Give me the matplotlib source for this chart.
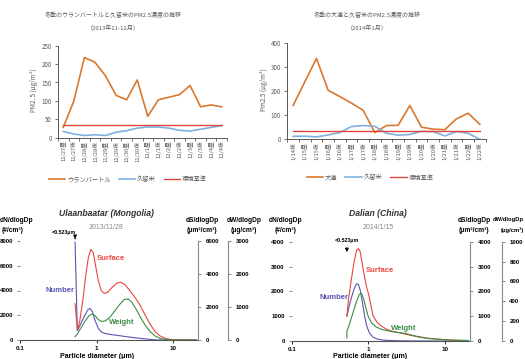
import matplotlib
matplotlib.use('Agg')
import matplotlib.pyplot as plt

W, H = 525, 359
JP = ['Noto Sans CJK JP', 'DejaVu Sans']
EN = ['Liberation Sans', 'DejaVu Sans']

# PM2.5, Ulaanbaatar vs Kurume (2013/11-12)
ub_labels = ['11/27昼', '11/27夜', '11/28昼', '11/28夜', '11/29昼', '11/29夜', '11/30昼', '11/30夜',
             '12/1昼', '12/1夜', '12/2昼', '12/2夜', '12/3昼', '12/3夜', '12/4昼', '12/4夜']
ub_pm = [28, 100, 218, 205, 168, 115, 103, 157, 58, 103, 110, 117, 142, 84, 89, 84]
ub_kurume = [17, 10, 6, 8, 6, 15, 19, 26, 29, 29, 26, 20, 18, 23, 28, 33]

# PM2.5, Dalian vs Kurume (2014/1)
dl_labels = ['1/14夜', '1/15昼', '1/15夜', '1/16昼', '1/16夜', '1/17昼', '1/17夜', '1/18昼', '1/18夜',
             '1/19昼', '1/19夜', '1/20昼', '1/20夜', '1/21昼', '1/21夜', '1/22昼', '1/22夜']
dl_pm = [140, 238, 335, 203, 177, 150, 120, 28, 57, 58, 140, 50, 42, 40, 85, 108, 62]
dl_kurume = [12, 13, 10, 18, 28, 53, 57, 54, 25, 17, 20, 33, 32, 14, 32, 25, 0]

standard = 35

# size distribution, Ulaanbaatar 2013/11/28
ub_n_d = [0.523, 0.56, 0.62, 0.7, 0.77, 0.82, 0.88, 0.95, 1.05, 1.15, 1.3, 1.5, 1.83, 2.5, 3.0, 4.0, 4.9, 6.0, 8.0, 20]
ub_n = [7900, 750, 1300, 2000, 2450, 2550, 2300, 1600, 950, 650, 520, 450, 380, 260, 200, 110, 50, 5, 0, 0]
ub_s_d = [0.523, 0.56, 0.6, 0.66, 0.72, 0.78, 0.84, 0.9, 0.97, 1.05, 1.15, 1.25, 1.4, 1.6, 1.85,
          2.05, 2.35, 2.7, 3.2, 3.7, 4.3, 5.0, 5.8, 6.7, 7.8, 9.0, 12, 20]
ub_s = [2200, 640, 1100, 2400, 3900, 5000, 5500, 5300, 4500, 3600, 3000, 2820, 2900, 3200, 3450,
        3500, 3350, 3000, 2550, 2100, 1500, 950, 500, 250, 100, 40, 5, 0]
ub_w_d = [0.523, 0.56, 0.6, 0.7, 0.8, 0.88, 0.95, 1.05, 1.16, 1.3, 1.5, 1.75, 2.0, 2.3, 2.6,
          2.9, 3.3, 3.7, 4.3, 5.0, 5.8, 6.7, 8.0, 10, 20]
ub_w = [100, 180, 300, 560, 740, 790, 740, 620, 560, 580, 700, 900, 1080, 1230, 1240,
        1130, 920, 700, 450, 250, 120, 50, 15, 0, 0]

# size distribution, Dalian 2014/1/15
dl_n_d = [0.523, 0.55, 0.6, 0.65, 0.7, 0.74, 0.78, 0.83, 0.89, 0.95, 1.03, 1.15, 1.3, 1.5, 2.0, 3.0, 5.0, 20]
dl_n = [1000, 1300, 1750, 2100, 2300, 2280, 2050, 1600, 1000, 600, 320, 150, 80, 40, 15, 5, 0, 0]
dl_s_d = [0.523, 0.55, 0.6, 0.65, 0.7, 0.74, 0.78, 0.84, 0.9, 0.94, 1.0, 1.05, 1.15, 1.3, 1.4,
          1.7, 2.0, 2.8, 3.5, 4.6, 6.0, 8.4, 12, 20]
dl_s = [1000, 1700, 2500, 3200, 3650, 3720, 3600, 3000, 2500, 2200, 1900, 1600, 1000, 750, 650,
        480, 400, 300, 230, 170, 110, 70, 30, 10]
dl_w_d = [0.523, 0.525, 0.56, 0.62, 0.7, 0.76, 0.81, 0.86, 0.92, 0.99, 1.1, 1.27, 1.5, 2.0, 2.5,
          3.1, 3.6, 4.5, 6.0, 10, 20]
dl_w = [30, 100, 160, 270, 400, 470, 480, 430, 340, 250, 180, 140, 115, 95, 85,
        75, 60, 40, 25, 12, 5]

ORANGE = '#D9782F'
BLUE = '#7FB1E0'
RED = '#E0443C'
GRAY = '#595959'


def box(l, t, r, b):
    return [l / W, 1 - b / H, (r - l) / W, (b - t) / H]


def fx(x):
    return x / W


def fy(y):
    return 1 - y / H


def draw_pm(fig, rect, labels, city, kurume, ymax, city_name, titles, title_x, leg_xy, ylabel, ylabel_x):
    ax = fig.add_axes(rect)
    x = list(range(len(labels)))
    l1, = ax.plot(x, city, color=ORANGE, lw=1.2)
    l2, = ax.plot(x, kurume, color=BLUE, lw=1.2)
    l3, = ax.plot(x, [standard] * len(x), color=RED, lw=1.0)
    ax.set_xlim(-0.5, len(x) - 0.5)
    ax.set_ylim(0, ymax)
    ax.set_yticks(range(0, ymax + 1, 50 if ymax == 250 else 100))
    ax.set_xticks(x)
    ax.set_xticklabels(labels, rotation=90, family=JP, fontsize=4.2, color=GRAY)
    ax.set_xticks([i - 0.5 for i in range(len(x) + 1)], minor=True)
    ax.tick_params(axis='x', which='major', length=0, pad=2)
    ax.tick_params(axis='x', which='minor', length=2.5, color=GRAY, width=0.6)
    ax.tick_params(axis='y', length=2.5, color=GRAY, width=0.6, labelsize=4.5, labelcolor=GRAY, pad=2)
    for t in ax.get_yticklabels():
        t.set_family(JP)
    for s in ['top', 'right']:
        ax.spines[s].set_visible(False)
    for s in ['left', 'bottom']:
        ax.spines[s].set_color(GRAY)
        ax.spines[s].set_linewidth(0.7)
    fig.text(fx(title_x), fy(15), titles[0], family=JP, fontsize=4.3, color=GRAY, ha='center', va='center')
    fig.text(fx(title_x), fy(28), titles[1], family=JP, fontsize=4.3, color=GRAY, ha='center', va='center')
    fig.text(fx(ylabel_x), fy(90), ylabel, family=JP, fontsize=4.5, color=GRAY, rotation=90,
             ha='center', va='center')
    fig.legend([l1, l2, l3], [city_name, '久留米', '環境基準'], loc='center',
               bbox_to_anchor=(fx(leg_xy[0]), fy(leg_xy[1])), ncol=3, frameon=False,
               prop={'family': JP, 'size': 4.5}, labelcolor=GRAY, handlelength=2.6,
               handletextpad=0.3, columnspacing=1.3)
    return ax


def draw_size(fig, rect, data, n_max, s_max, w_max, n_step, s_step, w_step, title, date,
              arrow, labels_pos):
    l, t, r, b = rect
    ax = fig.add_axes(box(l, t, r, b))
    ax_s = ax.twinx()
    ax_w = ax.twinx()
    ax_w.spines['right'].set_position(('outward', (labels_pos['w_spine'] - r) * 0.72))

    nd, n, sd, s, wd, w = data
    ax.plot(nd, n, color='#5A55B0', lw=0.8)
    ax_s.plot(sd, s, color='#E8463C', lw=0.8)
    ax_w.plot(wd, w, color='#3C8C44', lw=0.8)

    for a, top, step in [(ax, n_max, n_step), (ax_s, s_max, s_step), (ax_w, w_max, w_step)]:
        a.set_xscale('log')
        a.set_xlim(0.1, 21)
        a.set_ylim(0, top)
        a.set_yticks(range(0, top + 1, step))
        a.spines['top'].set_visible(False)
        a.tick_params(axis='y', labelsize=4.3, length=2.5, width=0.6, color='#777777', pad=3)
        for tl in a.get_yticklabels():
            tl.set_family(EN)
            tl.set_weight('bold')
    ax.spines['left'].set_visible(False)
    ax.spines['right'].set_visible(False)
    ax_s.spines['left'].set_visible(False)
    ax_w.spines['left'].set_visible(False)
    ax_s.spines['right'].set_color('#888888')
    ax_w.spines['right'].set_color('#888888')
    ax_s.spines['right'].set_linewidth(0.8)
    ax_w.spines['right'].set_linewidth(0.8)
    ax_s.spines['bottom'].set_visible(False)
    ax_w.spines['bottom'].set_visible(False)
    ax.spines['bottom'].set_color('#555555')
    ax.spines['bottom'].set_linewidth(0.8)
    ax.tick_params(axis='y', pad=2.5)

    ax.set_xticks([0.1, 1, 10])
    ax.set_xticklabels(['0.1', '1', '10'], family=EN, weight='bold', fontsize=4.5)
    ax.xaxis.set_minor_locator(plt.NullLocator())
    ax.tick_params(axis='x', length=2.5, width=0.6, pad=1.5)

    cx = (l + r) / 2
    fig.text(fx(cx - 3), fy(214), title, family=EN, weight='bold', style='italic', fontsize=6.2,
             color='#333333', ha='center', va='center')
    fig.text(fx(cx - 3), fy(228), date, family=EN, fontsize=5, color='#888888', ha='center', va='center')

    # left header: keep it inside the figure
    n_x = max(l - 6, 17)
    fig.text(fx(n_x), fy(220), 'dN/dlogDp', family=EN, weight='bold', fontsize=4.8, ha='center', va='center')
    fig.text(fx(n_x - 4 if l < 30 else n_x), fy(230), '(#/cm³)', family=EN, weight='bold', fontsize=4.8,
             ha='center', va='center')
    fig.text(fx(r + labels_pos['s_off']), fy(220), 'dS/dlogDp', family=EN, weight='bold', fontsize=4.8,
             ha='center', va='center')
    fig.text(fx(r + labels_pos['s_off']), fy(230), '(μm²/cm³)', family=EN, weight='bold', fontsize=4.8,
             ha='center', va='center')
    # right header: keep it inside the figure
    w_x = labels_pos['w_spine'] + labels_pos['w_off']
    w_ha = 'center'
    w_size = 4.8
    if w_x > W - 20:
        w_x, w_ha, w_size = W - 1, 'right', 4.2
    fig.text(fx(w_x), fy(220), 'dW/dlogDp', family=EN, weight='bold', fontsize=w_size, ha=w_ha, va='center')
    fig.text(fx(w_x), fy(230), '(μg/cm³)', family=EN, weight='bold', fontsize=w_size, ha=w_ha, va='center')

    fig.text(fx(labels_pos['xlabel']), fy(357), 'Particle diameter (μm)', family=EN, weight='bold',
             fontsize=5, ha='center', va='center')

    # <0.523um arrow
    ax.annotate('', xy=(0.523, arrow[1]), xytext=(0.523, arrow[0]),
                arrowprops=dict(arrowstyle='-|>', color='black', lw=0.7, mutation_scale=5),
                annotation_clip=False)
    ax.text(arrow[2], arrow[3], '<0.523μm', family=EN, weight='bold', fontsize=3.8,
            ha=arrow[4], va='center')

    for txt, color, xy in [('Surface', '#E8463C', labels_pos['surface']),
                           ('Number', '#5A55B0', labels_pos['number']),
                           ('Weight', '#3C8C44', labels_pos['weight'])]:
        fig.text(fx(xy[0]), fy(xy[1]), txt, family=EN, weight='bold', fontsize=5.5, color=color,
                 ha='center', va='center')


fig = plt.figure(figsize=(W / 100, H / 100), dpi=100)

draw_pm(fig, box(58, 45.7, 227, 137.7), ub_labels, ub_pm, ub_kurume, 250, 'ウランバートル',
        ['冬季のウランバートルと久留米のPM2.5濃度の推移', '（2013年11-12月）'], 113,
        (128, 179), 'PM2. 5 (μg/m³)', 34)
draw_pm(fig, box(287.3, 42.7, 485.7, 139.3), dl_labels, dl_pm, dl_kurume, 400, '大連',
        ['冬季の大連と久留米のPM2.5濃度の推移', '（2014年1月）'], 367,
        (370, 177.5), 'Pm2.5 (μg/m³)', 264)

draw_size(fig, (20, 241, 198, 340), (ub_n_d, ub_n, ub_s_d, ub_s, ub_w_d, ub_w),
          8000, 6000, 3000, 2000, 2000, 1000, 'Ulaanbaatar (Mongolia)', '2013/11/28',
          (8400, 7950, 0.53, 8650, 'right'),
          {'w_spine': 228, 's_off': 4, 'w_off': 16, 'xlabel': 97,
           'surface': (111, 259), 'number': (60, 291), 'weight': (121.5, 322.7)})
draw_size(fig, (291.7, 241.7, 470, 341), (dl_n_d, dl_n, dl_s_d, dl_s, dl_w_d, dl_w),
          4000, 4000, 1000, 1000, 1000, 200, 'Dalian (China)', '2014/1/15',
          (3870, 3470, 0.523, 4030, 'center'),
          {'w_spine': 501.7, 's_off': 4, 'w_off': 17, 'xlabel': 370,
           'surface': (380, 270.7), 'number': (334, 297.7), 'weight': (403.5, 329)})

fig.savefig('out.png', dpi=100)
